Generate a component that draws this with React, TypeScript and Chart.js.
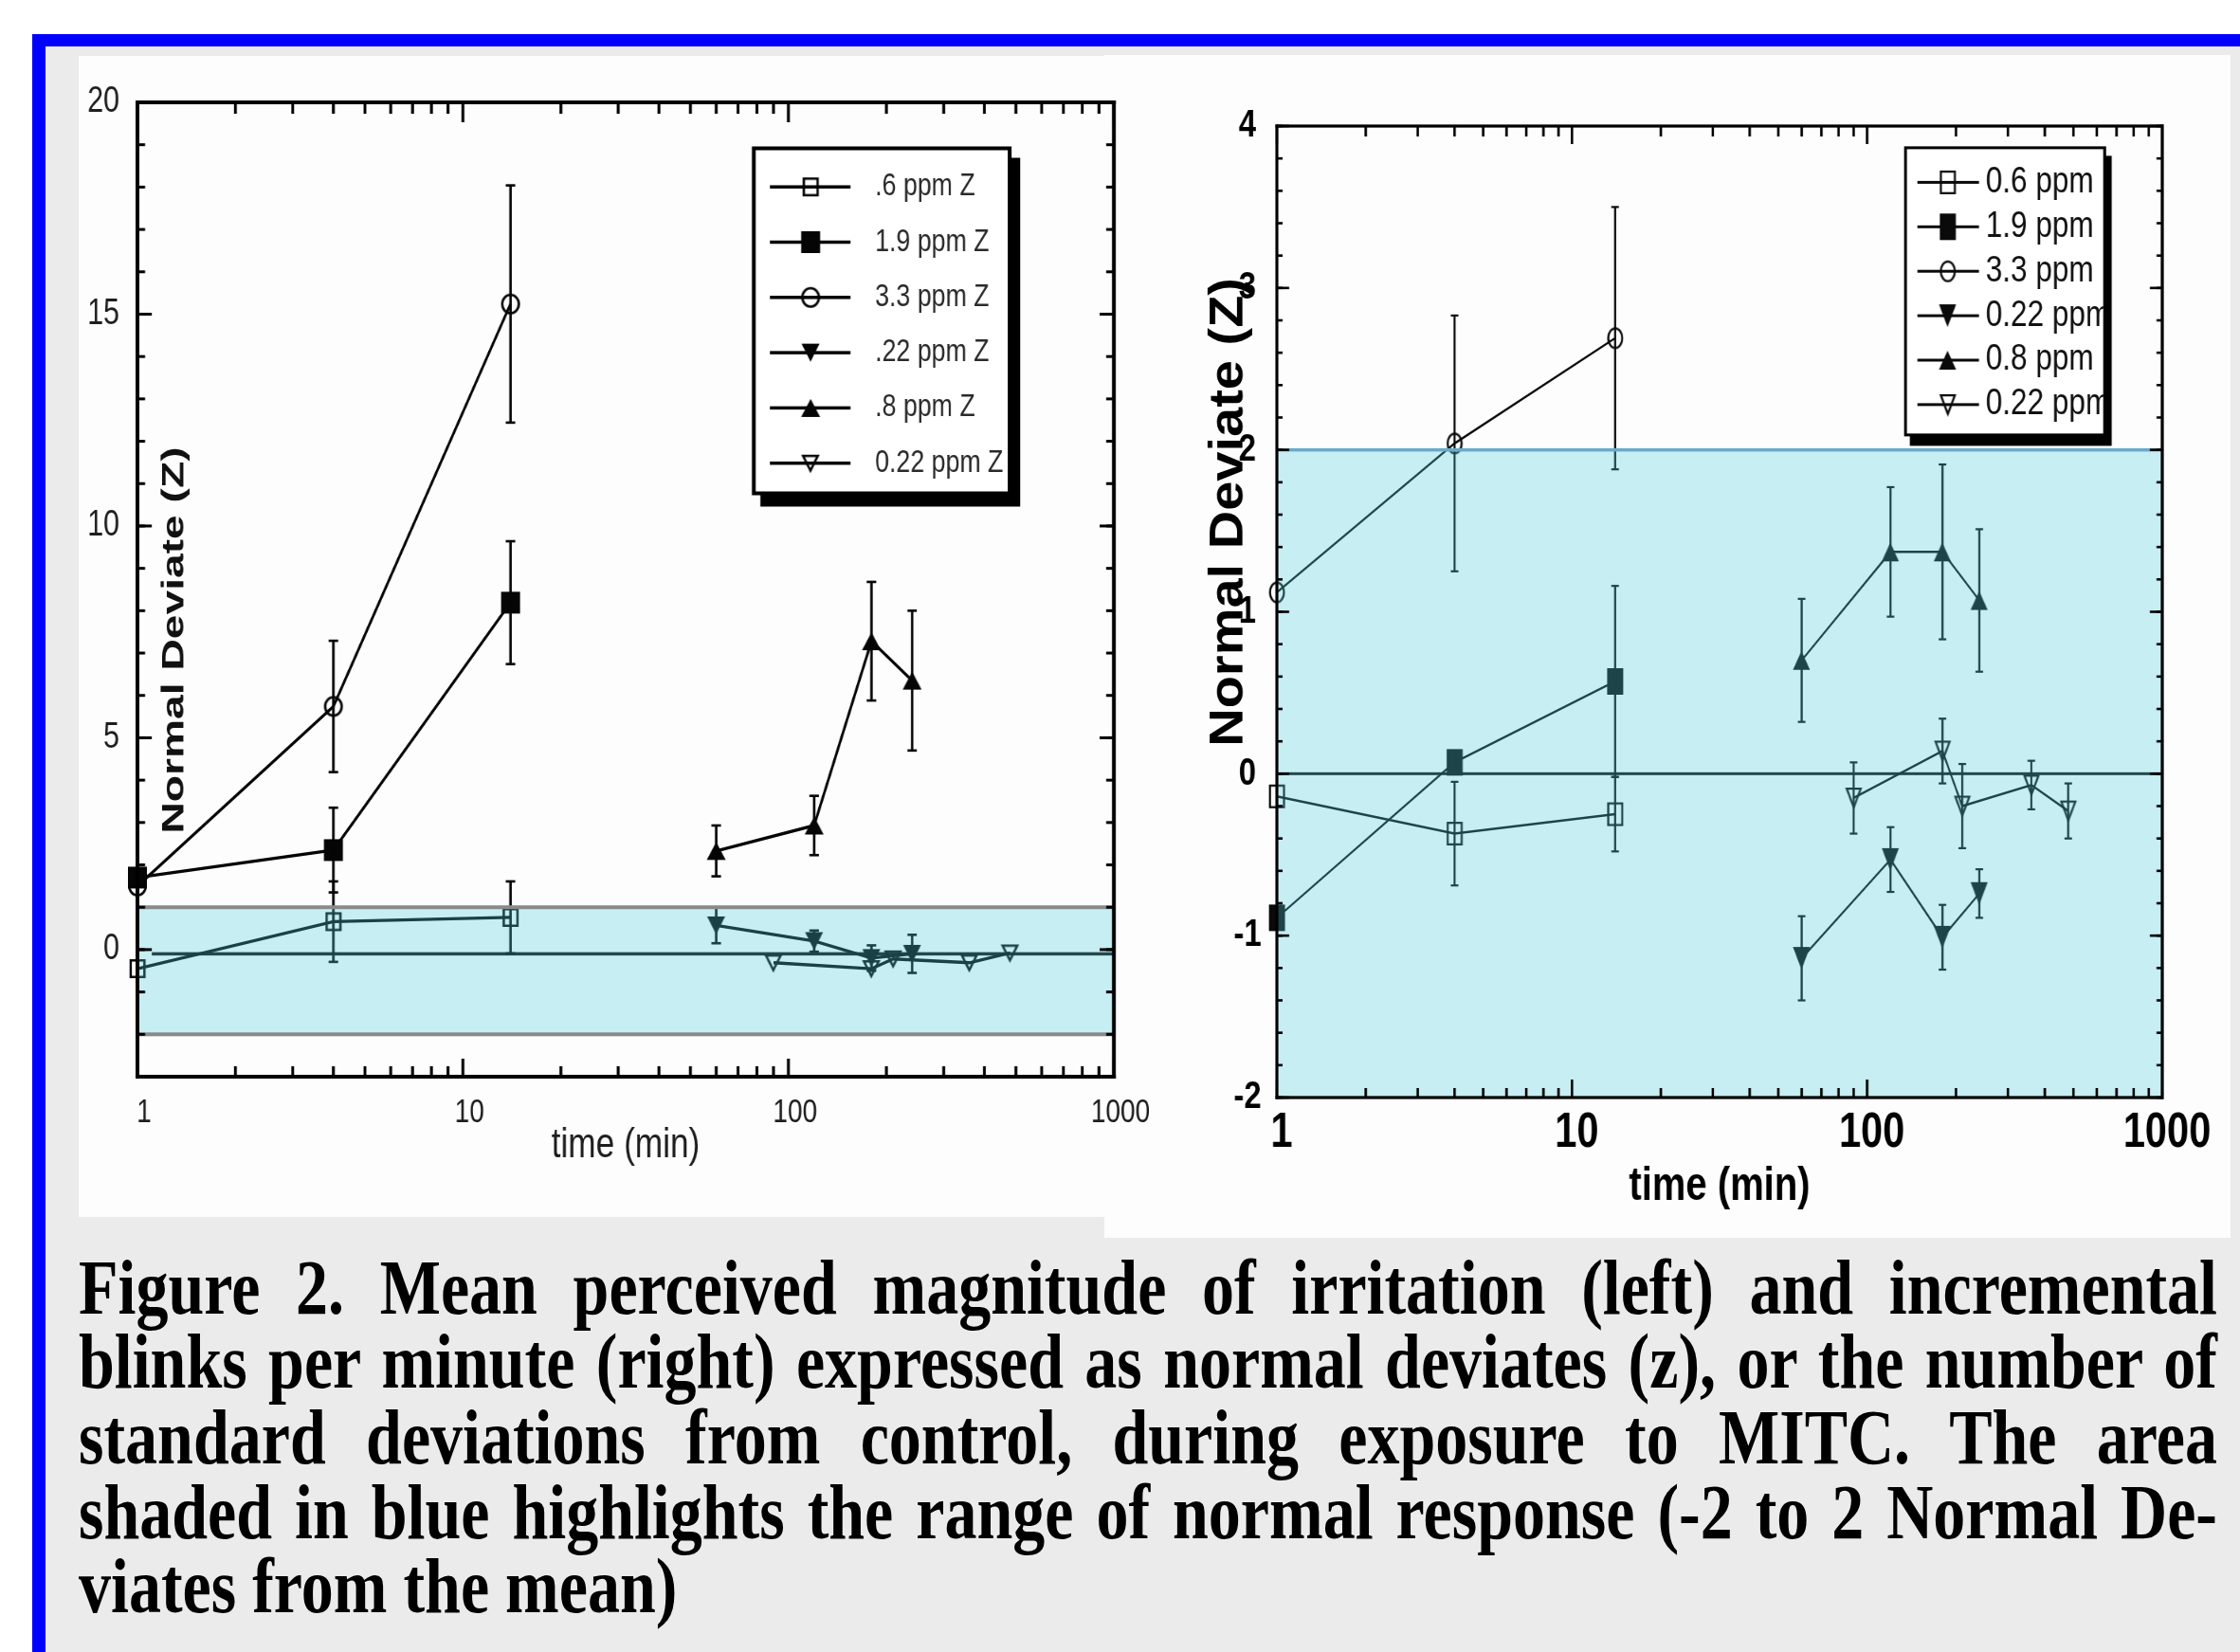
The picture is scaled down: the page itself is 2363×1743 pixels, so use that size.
import React, { useEffect, useRef } from "react";
import { Chart, registerables } from "chart.js";

Chart.register(...registerables);

/* ------------------------------------------------------------------ */
/* DATA                                                                */
/* ------------------------------------------------------------------ */
const xTickLabels = [1, 10, 100, 1000];
const leftYTickLabels = [0, 5, 10, 15, 20];
const rightYTickLabels = [-2, -1, 0, 1, 2, 3, 4];

const leftSeriesLabels = [".6 ppm Z", "1.9 ppm Z", "3.3 ppm Z", ".22 ppm Z", ".8 ppm Z", "0.22 ppm Z"];
const rightSeriesLabels = ["0.6 ppm", "1.9 ppm", "3.3 ppm", "0.22 ppm", "0.8 ppm", "0.22 ppm"];
const seriesMarkers = ["squareOpen", "squareFilled", "circleOpen", "triDownFilled", "triUpFilled", "triDownOpen"];

const earlyTimes = [1, 4, 14];
const lateTimesA = [60, 120, 180, 240];
const lateTimesB = [90, 180, 210, 360, 480];

// Left panel: perceived irritation (normal deviates)
const left06 = [-0.45, 0.66, 0.76];
const left06Err = [0, 0.95, 0.85];
const left19 = [1.7, 2.35, 8.19];
const left19Err = [0, 1.0, 1.45];
const left33 = [1.5, 5.74, 15.24];
const left33Err = [0, 1.55, 2.8];
const left022f = [0.57, 0.2, -0.2, -0.1];
const left022fErr = [0.42, 0.25, 0.3, 0.45];
const left08 = [2.33, 2.93, 7.28, 6.35];
const left08Err = [0.6, 0.7, 1.4, 1.65];
const left022o = [-0.31, -0.45, -0.22, -0.31, -0.08];
const left022oErr = [0, 0, 0, 0, 0];
const leftBand = [-2, 1];
const leftBaseline = -0.1;

// Right panel: incremental blinks per minute (normal deviates)
const right06 = [-0.14, -0.37, -0.25];
const right06Err = [0, 0.32, 0.23];
const right19 = [-0.89, 0.07, 0.57];
const right19Err = [0, 0, 0.59];
const right33 = [1.12, 2.04, 2.69];
const right33Err = [0, 0.79, 0.81];
const right022f = [-1.14, -0.53, -1.01, -0.74];
const right022fErr = [0.26, 0.2, 0.2, 0.15];
const right08 = [0.7, 1.37, 1.37, 1.07];
const right08Err = [0.38, 0.4, 0.54, 0.44];
const right022o = [-0.15, 0.14, -0.2, -0.07, -0.23];
const right022oErr = [0.22, 0.2, 0.26, 0.15, 0.17];
const rightBand = [-2, 2];
const rightBaseline = 0;

const captionLines = [
  "Figure 2. Mean perceived magnitude of irritation (left) and incremental",
  "blinks per minute (right) expressed as normal deviates (z), or the number of",
  "standard deviations from control, during exposure to MITC. The area",
  "shaded in blue highlights the range of normal response (-2 to 2 Normal De-",
  "viates from the mean)",
];

/* ------------------------------------------------------------------ */
/* STYLE / LAYOUT (horizontal values in CSS px)                        */
/* ------------------------------------------------------------------ */
const SANS = "'Liberation Sans', Arial, Helvetica, sans-serif";

type Series = { label: string; marker: string; x: number[]; y: number[]; err: number[] };

const leftSeries: Series[] = [
  { label: leftSeriesLabels[0], marker: seriesMarkers[0], x: earlyTimes, y: left06, err: left06Err },
  { label: leftSeriesLabels[1], marker: seriesMarkers[1], x: earlyTimes, y: left19, err: left19Err },
  { label: leftSeriesLabels[2], marker: seriesMarkers[2], x: earlyTimes, y: left33, err: left33Err },
  { label: leftSeriesLabels[3], marker: seriesMarkers[3], x: lateTimesA, y: left022f, err: left022fErr },
  { label: leftSeriesLabels[4], marker: seriesMarkers[4], x: lateTimesA, y: left08, err: left08Err },
  { label: leftSeriesLabels[5], marker: seriesMarkers[5], x: lateTimesB, y: left022o, err: left022oErr },
];

const rightSeries: Series[] = [
  { label: rightSeriesLabels[0], marker: seriesMarkers[0], x: earlyTimes, y: right06, err: right06Err },
  { label: rightSeriesLabels[1], marker: seriesMarkers[1], x: earlyTimes, y: right19, err: right19Err },
  { label: rightSeriesLabels[2], marker: seriesMarkers[2], x: earlyTimes, y: right33, err: right33Err },
  { label: rightSeriesLabels[3], marker: seriesMarkers[3], x: lateTimesA, y: right022f, err: right022fErr },
  { label: rightSeriesLabels[4], marker: seriesMarkers[4], x: lateTimesA, y: right08, err: right08Err },
  { label: rightSeriesLabels[5], marker: seriesMarkers[5], x: lateTimesB, y: right022o, err: right022oErr },
];

const leftSpec = {
  series: leftSeries,
  sx: 0.8,
  canvas: { x: 83, y: 58, w: 1137, h: 1226 },
  padding: { left: 0, top: 50, right: 45, bottom: 0 },
  yAxisWidth: 62,
  xAxisHeight: 148,
  yMin: -3,
  yMax: 20,
  yTicks: leftYTickLabels,
  yMinorStep: 1,
  yMajorLen: 15,
  yMinorLen: 8,
  xMajorBottom: 19,
  xMajorTop: 21,
  xMinorBottom: 11,
  xMinorTop: 12,
  frameWidth: 4,
  tickWidth: 3,
  textColor: "#1e1e1e",
  xTickFont: { family: SANS, size: 35 },
  xTickPad: 17,
  xLabelShift: 7,
  yTickFont: { family: SANS, size: 38 },
  yTickPad: 19,
  yCrossAlign: "near",
  xTitleFont: { family: SANS, size: 44 },
  xTitlePadBottom: 49,
  lineColor: "#050505",
  lineWidth: 3.3,
  markerLine: 2.5,
  markerSize: {
    squareOpen: [17, 20],
    squareFilled: [20, 23],
    circleOpen: [20, 22],
    triDownFilled: [19, 19],
    triUpFilled: [20, 19],
    triDownOpen: [18, 18],
  } as Record<string, number[]>,
  errWidth: 2.6,
  capHalf: 5,
  band: leftBand,
  bandFill: "rgba(72,205,222,0.30)",
  bandEdgeColor: "#8a8a8a",
  bandEdgeWidth: 4,
  bandBottomEdge: true,
  baseline: leftBaseline,
  baselineStart: 15,
  baselineWidth: 3.5,
  baselineColor: "#111111",
  legend: {
    dx: 648, dy: 46.5, w: 274, h: 368, shadowX: 9, shadowY: 12, border: 4,
    rowTop: 42.7, rowGap: 58.3, lineX0: 19, lineX1: 104, markerX: 62, textX: 130,
    font: `33px ${SANS}`, textSx: 0.81, color: "#2a2a2a", lineWidth: 3.5,
  },
  yTitle: { text: "Normal Deviate (Z)", font: `bold 33px ${SANS}`, dx: 39, dy: 567.5, stretch: 1.4, color: "#111111" },
};

const rightSpec = {
  series: rightSeries,
  sx: 0.8,
  canvas: { x: 1165, y: 58, w: 1188, h: 1248 },
  padding: { left: 0, top: 75, right: 72, bottom: 0 },
  yAxisWidth: 182,
  xAxisHeight: 148,
  yMin: -2,
  yMax: 4,
  yTicks: rightYTickLabels,
  yMinorStep: 0.2,
  yMajorLen: 13,
  yMinorLen: 6,
  xMajorBottom: 19,
  xMajorTop: 19,
  xMinorBottom: 10,
  xMinorTop: 11,
  frameWidth: 3.2,
  tickWidth: 2.6,
  textColor: "#000000",
  xTickFont: { family: SANS, size: 52, weight: "bold" },
  xTickPad: 6,
  xLabelShift: 5,
  yTickFont: { family: SANS, size: 41, weight: "bold" },
  yTickPad: 16.4,
  yCrossAlign: "center",
  xTitleFont: { family: SANS, size: 50, weight: "bold" },
  xTitlePadBottom: 24,
  lineColor: "#0a0a0a",
  lineWidth: 2.4,
  markerLine: 2.2,
  markerSize: {
    squareOpen: [17, 25],
    squareFilled: [17, 28],
    circleOpen: [17, 23],
    triDownFilled: [18, 24],
    triUpFilled: [18, 20],
    triDownOpen: [17, 22],
  } as Record<string, number[]>,
  errWidth: 2.2,
  capHalf: 4,
  band: rightBand,
  bandFill: "rgba(72,205,222,0.30)",
  bandEdgeColor: "#6aaac8",
  bandEdgeWidth: 3.5,
  bandBottomEdge: false,
  baseline: rightBaseline,
  baselineStart: 0,
  baselineWidth: 3,
  baselineColor: "#111111",
  legend: {
    dx: 661.7, dy: 21.4, w: 213, h: 306, shadowX: 6, shadowY: 10, border: 3,
    rowTop: 38, rowGap: 46.9, lineX0: 14, lineX1: 79, markerX: 46, textX: 86,
    font: `38px ${SANS}`, textSx: 0.83, color: "#111111", lineWidth: 3,
  },
  yTitle: { text: "Normal Deviate (Z)", font: `bold 50px ${SANS}`, dx: -50, dy: 407.4, stretch: 1.12, color: "#000000" },
};

/* ------------------------------------------------------------------ */
/* MARKERS (drawn in canvas units; k = 1/sx widens them horizontally)   */
/* ------------------------------------------------------------------ */
function makeMarker(kind: string, w: number, h: number, lw: number, color: string, k: number): HTMLCanvasElement {
  const c = document.createElement("canvas");
  const pad = Math.ceil(lw) + 1;
  c.width = Math.round((w + 2 * pad) * k);
  c.height = h + 2 * pad;
  const ctx = c.getContext("2d")!;
  ctx.scale(k, 1);
  ctx.strokeStyle = color;
  ctx.fillStyle = color;
  ctx.lineWidth = lw;
  ctx.lineJoin = "miter";
  const x0 = pad;
  const y0 = pad;
  const i = lw / 2;
  ctx.beginPath();
  switch (kind) {
    case "squareOpen":
      ctx.rect(x0 + i, y0 + i, w - lw, h - lw);
      ctx.stroke();
      break;
    case "squareFilled":
      ctx.rect(x0, y0, w, h);
      ctx.fill();
      break;
    case "circleOpen":
      ctx.ellipse(x0 + w / 2, y0 + h / 2, w / 2 - i, h / 2 - i, 0, 0, Math.PI * 2);
      ctx.stroke();
      break;
    case "triDownFilled":
      ctx.moveTo(x0, y0);
      ctx.lineTo(x0 + w, y0);
      ctx.lineTo(x0 + w / 2, y0 + h);
      ctx.closePath();
      ctx.fill();
      break;
    case "triUpFilled":
      ctx.moveTo(x0, y0 + h);
      ctx.lineTo(x0 + w, y0 + h);
      ctx.lineTo(x0 + w / 2, y0);
      ctx.closePath();
      ctx.fill();
      break;
    case "triDownOpen":
      ctx.moveTo(x0 + i, y0 + i);
      ctx.lineTo(x0 + w - i, y0 + i);
      ctx.lineTo(x0 + w / 2, y0 + h - i);
      ctx.closePath();
      ctx.stroke();
      break;
  }
  return c;
}

/* ------------------------------------------------------------------ */
/* PLUGIN: baseline, error bars, band, framed axes, legend, y title     */
/* ------------------------------------------------------------------ */
function decorPlugin(p: any, markers: HTMLCanvasElement[]) {
  const k = 1 / p.sx;
  return {
    id: "decor",
    beforeDraw(chart: any) {
      const { ctx, chartArea: a } = chart;
      const T = p.yTitle;
      ctx.save();
      ctx.translate(a.left + T.dx * k, a.top + T.dy);
      ctx.scale(k, 1);
      ctx.rotate(-Math.PI / 2);
      ctx.scale(T.stretch, 1);
      ctx.font = T.font;
      ctx.fillStyle = T.color;
      ctx.textAlign = "center";
      ctx.textBaseline = "middle";
      ctx.fillText(T.text, 0, 0);
      ctx.restore();
    },
    beforeDatasetsDraw(chart: any) {
      const { ctx, chartArea: a } = chart;
      const y = chart.scales.y;
      const py = y.getPixelForValue(p.baseline);
      ctx.save();
      ctx.fillStyle = p.baselineColor;
      const x0 = a.left + p.baselineStart * k;
      ctx.fillRect(x0, py - p.baselineWidth / 2, a.right - x0, p.baselineWidth);
      ctx.restore();
    },
    afterDatasetsDraw(chart: any) {
      const { ctx, chartArea: a } = chart;
      const x = chart.scales.x;
      const y = chart.scales.y;
      ctx.save();
      // error bars
      ctx.fillStyle = p.lineColor;
      const ew = p.errWidth;
      const ch = p.capHalf * k;
      p.series.forEach((s: Series) =>
        s.x.forEach((t: number, j: number) => {
          const e = s.err[j];
          if (!e) return;
          const px = x.getPixelForValue(t);
          const y1 = y.getPixelForValue(s.y[j] + e);
          const y2 = y.getPixelForValue(s.y[j] - e);
          ctx.fillRect(px - (ew * k) / 2, y1, ew * k, y2 - y1);
          ctx.fillRect(px - ch, y1 - ew / 2, 2 * ch, ew);
          ctx.fillRect(px - ch, y2 - ew / 2, 2 * ch, ew);
        })
      );

      // shaded normal-range band
      const bTop = y.getPixelForValue(p.band[1]);
      const bBot = y.getPixelForValue(p.band[0]);
      ctx.fillStyle = p.bandFill;
      ctx.fillRect(a.left, bTop, a.right - a.left, bBot - bTop);
      ctx.fillStyle = p.bandEdgeColor;
      const bw = p.bandEdgeWidth;
      ctx.fillRect(a.left, bTop - bw / 2, a.right - a.left, bw);
      if (p.bandBottomEdge) ctx.fillRect(a.left, bBot - bw / 2, a.right - a.left, bw);

      // inward ticks on all four sides
      ctx.fillStyle = "#000000";
      const tw = p.tickWidth;
      const vt = (px: number, y0: number, len: number) =>
        ctx.fillRect(px - (tw * k) / 2, Math.min(y0, y0 + len), tw * k, Math.abs(len));
      const ht = (py: number, x0: number, len: number) =>
        ctx.fillRect(Math.min(x0, x0 + len), py - tw / 2, Math.abs(len), tw);
      for (let d = x.min; d < x.max; d *= 10) {
        for (let m = 2; m <= 9; m++) {
          const px = x.getPixelForValue(m * d);
          vt(px, a.bottom, -p.xMinorBottom);
          vt(px, a.top, p.xMinorTop);
        }
      }
      xTickLabels.forEach((v) => {
        const px = x.getPixelForValue(v);
        vt(px, a.bottom, -p.xMajorBottom);
        vt(px, a.top, p.xMajorTop);
      });
      const nMinor = Math.round((p.yMax - p.yMin) / p.yMinorStep);
      for (let i = 0; i <= nMinor; i++) {
        const py = y.getPixelForValue(p.yMin + i * p.yMinorStep);
        ht(py, a.left, p.yMinorLen * k);
        ht(py, a.right, -p.yMinorLen * k);
      }
      p.yTicks.forEach((v: number) => {
        const py = y.getPixelForValue(v);
        ht(py, a.left, p.yMajorLen * k);
        ht(py, a.right, -p.yMajorLen * k);
      });
      // frame
      const fw = p.frameWidth;
      const fwx = fw * k;
      ctx.fillRect(a.left - fwx / 2, a.top - fw / 2, a.right - a.left + fwx, fw);
      ctx.fillRect(a.left - fwx / 2, a.bottom - fw / 2, a.right - a.left + fwx, fw);
      ctx.fillRect(a.left - fwx / 2, a.top - fw / 2, fwx, a.bottom - a.top + fw);
      ctx.fillRect(a.right - fwx / 2, a.top - fw / 2, fwx, a.bottom - a.top + fw);
      ctx.restore();
    },
    afterDraw(chart: any) {
      const { ctx, chartArea: a } = chart;
      const L = p.legend;
      const bx = a.left + L.dx * k;
      const by = a.top + L.dy;
      const w = L.w * k;
      const h = L.h;
      const bdx = L.border * k;
      const bdy = L.border;
      ctx.save();
      ctx.fillStyle = "#000000";
      ctx.fillRect(bx + L.shadowX * k, by + L.shadowY, w, h);
      ctx.fillRect(bx, by, w, h);
      ctx.fillStyle = "#ffffff";
      ctx.fillRect(bx + bdx, by + bdy, w - 2 * bdx, h - 2 * bdy);
      ctx.beginPath();
      ctx.rect(bx + bdx, by + bdy, w - 2 * bdx, h - 2 * bdy);
      ctx.clip();
      p.series.forEach((s: Series, i: number) => {
        const ry = by + L.rowTop + i * L.rowGap;
        ctx.fillStyle = p.lineColor;
        ctx.fillRect(bx + L.lineX0 * k, ry - L.lineWidth / 2, (L.lineX1 - L.lineX0) * k, L.lineWidth);
        const m = markers[i];
        ctx.drawImage(m, bx + L.markerX * k - m.width / 2, ry - m.height / 2);
        ctx.save();
        ctx.translate(bx + L.textX * k, ry);
        ctx.scale(L.textSx * k, 1);
        ctx.fillStyle = L.color;
        ctx.font = L.font;
        ctx.textAlign = "left";
        ctx.textBaseline = "middle";
        ctx.fillText(s.label, 0, 0);
        ctx.restore();
      });
      ctx.restore();
    },
  };
}

/* ------------------------------------------------------------------ */
/* CHART CONFIG                                                        */
/* ------------------------------------------------------------------ */
function buildConfig(p: any) {
  const k = 1 / p.sx;
  const markers = p.series.map((s: Series) => {
    const [w, h] = p.markerSize[s.marker];
    return makeMarker(s.marker, w, h, p.markerLine, p.lineColor, k);
  });
  const datasets = p.series.map((s: Series, i: number) => ({
    type: "line",
    label: s.label,
    data: s.x.map((t, j) => ({ x: t, y: s.y[j] })),
    borderColor: p.lineColor,
    backgroundColor: p.lineColor,
    borderWidth: p.lineWidth,
    pointStyle: markers[i],
    pointRadius: 10,
    pointHoverRadius: 10,
    tension: 0,
    fill: false,
    clip: false,
  }));
  return {
    type: "line",
    data: { datasets },
    options: {
      responsive: false,
      maintainAspectRatio: false,
      animation: false,
      devicePixelRatio: 1,
      events: [],
      layout: {
        padding: {
          left: p.padding.left * k,
          right: p.padding.right * k,
          top: p.padding.top,
          bottom: p.padding.bottom,
        },
      },
      plugins: { legend: { display: false }, tooltip: { enabled: false }, title: { display: false } },
      scales: {
        x: {
          type: "logarithmic",
          min: 1,
          max: 1000,
          afterBuildTicks: (s: any) => {
            s.ticks = xTickLabels.map((v) => ({ value: v }));
          },
          afterFit: (s: any) => {
            s.height = p.xAxisHeight;
          },
          grid: { display: false, drawTicks: false },
          border: { display: false },
          ticks: {
            autoSkip: false,
            maxRotation: 0,
            minRotation: 0,
            padding: p.xTickPad,
            labelOffset: p.xLabelShift * k,
            font: p.xTickFont,
            color: p.textColor,
            callback: (v: any) => String(v),
          },
          title: {
            display: true,
            text: "time (min)",
            font: p.xTitleFont,
            color: p.textColor,
            padding: { top: 0, bottom: p.xTitlePadBottom },
          },
        },
        y: {
          type: "linear",
          min: p.yMin,
          max: p.yMax,
          afterBuildTicks: (s: any) => {
            s.ticks = p.yTicks.map((v: number) => ({ value: v }));
          },
          afterFit: (s: any) => {
            s.width = p.yAxisWidth * k;
          },
          grid: { display: false, drawTicks: false },
          border: { display: false },
          ticks: {
            autoSkip: false,
            padding: p.yTickPad * k,
            crossAlign: p.yCrossAlign,
            font: p.yTickFont,
            color: p.textColor,
            callback: (v: any) => String(v),
          },
        },
      },
    },
    plugins: [decorPlugin(p, markers)],
  };
}

function ChartPanel({ spec }: { spec: any }) {
  const ref = useRef<HTMLCanvasElement>(null);
  useEffect(() => {
    const chart = new Chart(ref.current as HTMLCanvasElement, buildConfig(spec) as any);
    return () => chart.destroy();
  }, [spec]);
  const c = spec.canvas;
  return (
    <canvas
      ref={ref}
      width={Math.round(c.w / spec.sx)}
      height={c.h}
      style={{ position: "absolute", left: c.x, top: c.y, width: c.w, height: c.h }}
    />
  );
}

export default function App() {
  return (
    <div
      style={{
        position: "absolute",
        left: 0,
        top: 0,
        width: 2363,
        height: 1743,
        background: "#ffffff",
        overflow: "hidden",
      }}
    >
      <div style={{ position: "absolute", left: 34, top: 36, right: 0, bottom: 0, background: "#0000fe" }} />
      <div style={{ position: "absolute", left: 48, top: 49, right: 0, bottom: 0, background: "#ebebeb" }} />
      <div style={{ position: "absolute", left: 83, top: 59, width: 1082, height: 1225, background: "#fdfdfd" }} />
      <div style={{ position: "absolute", left: 1165, top: 58, width: 1188, height: 1248, background: "#fdfdfd" }} />
      <ChartPanel spec={leftSpec} />
      <ChartPanel spec={rightSpec} />
      <div
        style={{
          position: "absolute",
          left: 83,
          top: 1319,
          width: 2256,
          fontFamily: "'Liberation Serif', 'Times New Roman', Times, serif",
          fontWeight: "bold",
          fontSize: 68,
          lineHeight: "65.3px",
          color: "#000000",
          transform: "scaleY(1.21)",
          transformOrigin: "0 0",
        }}
      >
        {captionLines.map((line, i) => {
          const last = i === captionLines.length - 1;
          return (
            <div
              key={i}
              style={{
                textAlign: last ? "left" : "justify",
                textAlignLast: last ? "left" : "justify",
              } as any}
            >
              {line}
            </div>
          );
        })}
      </div>
    </div>
  );
}
